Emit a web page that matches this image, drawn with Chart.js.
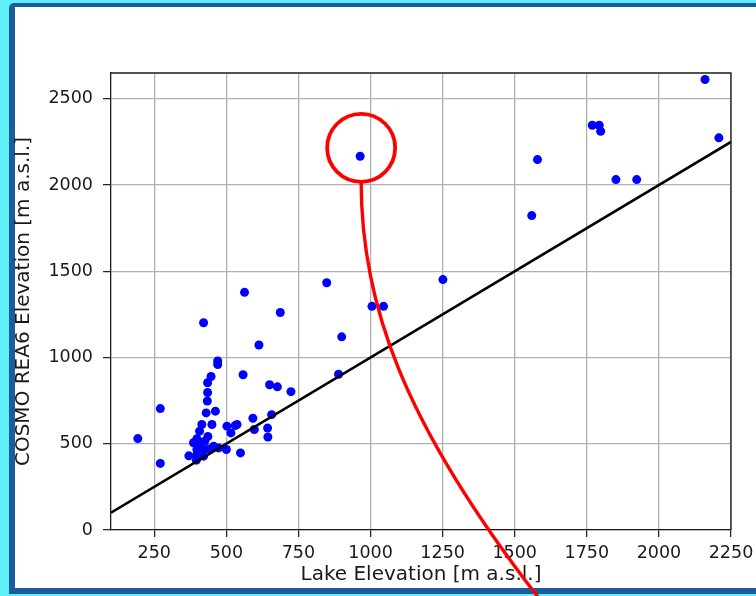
<!DOCTYPE html>
<html>
<head>
<meta charset="utf-8">
<script src="https://cdn.jsdelivr.net/npm/chart.js@4.4.1/dist/chart.umd.min.js"></script>
<style>
  html, body { margin: 0; padding: 0; }
  body { width: 756px; height: 596px; background: #5ff0f7; position: relative; overflow: hidden; }
  #frame { position: absolute; left: 9px; top: 3px; width: 820px; height: 581px;
           background: #ffffff; border-left: 6px solid #1b5c9d; border-top: 4px solid #1b5c9d;
           border-bottom: 6px solid #1b5c9d; border-top-left-radius: 5px; }
  #wrap { position: absolute; left: 0; top: 0; width: 756px; height: 596px; }
</style>
</head>
<body>
<div id="frame"></div>
<div id="wrap"><canvas id="c" width="756" height="596"></canvas></div>
<script>
// ---- data ----
const lakeElevation = [
  193, 271, 271, 370, 396, 398, 421, 398, 421, 386, 398, 436, 407, 415, 450,
  430, 462, 434, 435, 435, 447, 470, 470, 421, 563, 848, 687, 613, 900, 558,
  889, 650, 677, 724, 592, 657, 597, 643, 644, 502, 531, 537, 516, 456, 473,
  500, 549, 964, 1251, 1005, 1045, 1579, 1559, 1769, 1793, 1798, 1851, 1923,
  2160, 2208, 410, 440, 425
];
const cosmoElevation = [
  530, 704, 386, 430, 405, 438, 428, 467, 467, 506, 529, 542, 573, 612, 612,
  679, 689, 748, 797, 854, 890, 960, 980, 1202, 1378, 1434, 1261, 1073, 1120, 900,
  903, 842, 830, 802, 648, 669, 583, 591, 539, 602, 606, 612, 563, 486, 476,
  467, 447, 2167, 1452, 1297, 1297, 2148, 1823, 2347, 2347, 2312, 2032, 2032,
  2612, 2274, 500, 470, 515
];
const highlightIndex = 47;            // the circled point (964, 2167)
const oneToOneLine = [100, 2250];     // y = x reference line
const xTicks = [250, 500, 750, 1000, 1250, 1500, 1750, 2000, 2250];
const yTicks = [0, 500, 1000, 1500, 2000, 2500];
const xRange = [100, 2250];
const yRange = [0, 2650];

const points = lakeElevation.map((x, i) => ({ x: x, y: cosmoElevation[i] }));
const linePts = oneToOneLine.map(v => ({ x: v, y: v }));

const FONT = "'DejaVu Sans', sans-serif";

const framePlugin = {
  id: 'frameBox',
  afterDraw(chart) {
    const { ctx, chartArea: a } = chart;
    ctx.save();
    ctx.strokeStyle = '#1a1a1a';
    ctx.lineWidth = 1.3;
    ctx.beginPath();
    ctx.moveTo(a.left, a.top); ctx.lineTo(a.right, a.top); ctx.lineTo(a.right, a.bottom);
    ctx.stroke();
    ctx.restore();
  }
};

const highlightPlugin = {
  id: 'highlight',
  afterDraw(chart) {
    const { ctx } = chart;
    const xs = chart.scales.x, ys = chart.scales.y;
    const px = xs.getPixelForValue(lakeElevation[highlightIndex]);
    const py = ys.getPixelForValue(cosmoElevation[highlightIndex]);
    const cx = px + 1, cy = py - 8.5, r = 34;
    ctx.save();
    ctx.strokeStyle = '#ff0000';
    ctx.lineWidth = 3.8;
    ctx.beginPath();
    ctx.arc(cx, cy, r, 0, Math.PI * 2);
    ctx.stroke();
    ctx.lineWidth = 3.4;
    ctx.beginPath();
    ctx.moveTo(cx, cy + r);
    ctx.bezierCurveTo(cx, cy + 152, cx + 39, cy + 272, cx + 179, cy + 452);
    ctx.stroke();
    ctx.restore();
  }
};

const plainLabel = v => String(v);

new Chart(document.getElementById('c'), {
  type: 'scatter',
  data: {
    datasets: [
      {
        type: 'line',
        data: linePts,
        borderColor: '#000000',
        borderWidth: 2.6,
        pointRadius: 0,
        fill: false,
        order: 0
      },
      {
        data: points,
        backgroundColor: '#0000ff',
        borderWidth: 0,
        pointRadius: 4.5,
        pointHoverRadius: 4.5,
        order: 1
      }
    ]
  },
  options: {
    responsive: false,
    animation: false,
    events: [],
    layout: { padding: { left: 0, top: 73, right: 25, bottom: 0 } },
    plugins: { legend: { display: false }, tooltip: { enabled: false } },
    scales: {
      x: {
        type: 'linear',
        min: xRange[0], max: xRange[1],
        afterBuildTicks: s => { s.ticks = xTicks.map(v => ({ value: v })); },
        afterFit: s => { s.height = 66; s.paddingLeft = 0; s.paddingRight = 0; },
        grid: { color: '#b0b0b0', lineWidth: 1.3, tickLength: 7, tickColor: '#1a1a1a', tickWidth: 1.2 },
        border: { color: '#1a1a1a', width: 1.3 },
        ticks: { color: '#1a1a1a', font: { family: FONT, size: 17.5 }, padding: 6, maxRotation: 0, autoSkip: false,
                 callback: plainLabel },
        title: { display: true, text: 'Lake Elevation [m a.s.l.]', color: '#1a1a1a',
                 font: { family: FONT, size: 20 }, padding: { top: 0, bottom: 9 } }
      },
      y: {
        type: 'linear',
        min: yRange[0], max: yRange[1],
        afterBuildTicks: s => { s.ticks = yTicks.map(v => ({ value: v })); },
        afterFit: s => { s.width = 111; s.paddingTop = 0; s.paddingBottom = 0; },
        grid: { color: '#b0b0b0', lineWidth: 1.3, tickLength: 8, tickColor: '#1a1a1a', tickWidth: 1.2 },
        border: { color: '#1a1a1a', width: 1.3 },
        ticks: { color: '#1a1a1a', font: { family: FONT, size: 17.5 }, padding: 10, autoSkip: false,
                 callback: plainLabel },
        title: { display: true, text: 'COSMO REA6 Elevation [m a.s.l.]', color: '#1a1a1a',
                 font: { family: FONT, size: 20 }, padding: { top: 12, bottom: 0 } }
      }
    }
  },
  plugins: [framePlugin, highlightPlugin]
});
</script>
</body>
</html>
